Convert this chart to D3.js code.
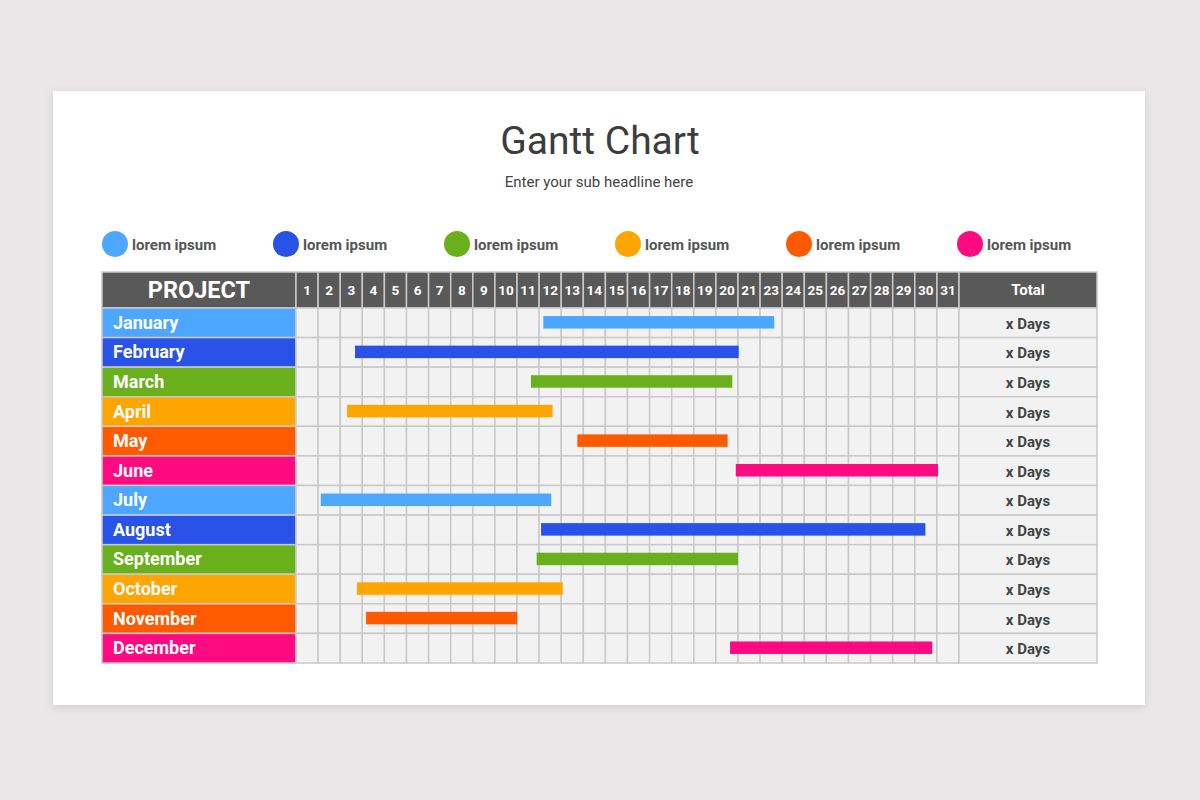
<!DOCTYPE html>
<html>
<head>
<meta charset="utf-8">
<script src="https://cdn.jsdelivr.net/npm/d3@7"></script>
<style>
  body { margin: 0; background: #e9e7e8; }
  svg { display: block; }
</style>
</head>
<body>
<svg id="chart"></svg>
<script>
var width = 1200;
var height = 800;

// data
var months = ["January", "February", "March", "April", "May", "June",
  "July", "August", "September", "October", "November", "December"];
var monthColors = ["#4da6ff", "#2852e8", "#6ab01c", "#ffa500", "#ff5a00", "#ff0a80",
  "#4da6ff", "#2852e8", "#6ab01c", "#ffa500", "#ff5a00", "#ff0a80"];
// day header labels (22 is missing in the original)
var dayLabels = ["1","2","3","4","5","6","7","8","9","10","11","12","13","14","15",
  "16","17","18","19","20","21","23","24","25","26","27","28","29","30","31"];
// bar start / end in day-column units
var barStart = [11.19, 2.67, 10.63, 2.31, 12.73, 19.90, 1.12, 11.09, 10.89, 2.76, 3.17, 19.64];
var barEnd   = [21.64, 20.03, 19.74, 11.61, 19.53, 29.05, 11.55, 28.48, 20.00, 12.07, 10.01, 28.79];
var totals = ["x Days","x Days","x Days","x Days","x Days","x Days",
  "x Days","x Days","x Days","x Days","x Days","x Days"];
var legendLabels = ["lorem ipsum","lorem ipsum","lorem ipsum","lorem ipsum","lorem ipsum","lorem ipsum"];
var legendColors = ["#4da6ff", "#2852e8", "#6ab01c", "#ffa500", "#ff5a00", "#ff0a80"];

var font = "Roboto, 'Noto Sans', sans-serif";
var headerColor = "#595959";
var gridColor = "#c9c9c9";
var cellColor = "#f2f2f2";

var svg = d3.select("#chart")
    .attr("width", width)
    .attr("height", height);

var defs = svg.append("defs");
var shadow = defs.append("filter").attr("id", "shadow")
    .attr("x", "-5%").attr("y", "-5%").attr("width", "110%").attr("height", "115%");
shadow.append("feDropShadow")
    .attr("dx", 0).attr("dy", 2).attr("stdDeviation", 4)
    .attr("flood-color", "#000").attr("flood-opacity", 0.12);

// card
svg.append("rect")
    .attr("x", 53).attr("y", 91)
    .attr("width", 1092).attr("height", 614)
    .attr("fill", "#fff")
    .attr("filter", "url(#shadow)");

// titles
svg.append("text")
    .attr("x", 600).attr("y", 154)
    .attr("text-anchor", "middle")
    .style("font-family", font)
    .style("font-size", "39px")
    .style("fill", "#3d3d3d")
    .text("Gantt Chart");

svg.append("text")
    .attr("x", 599).attr("y", 187)
    .attr("text-anchor", "middle")
    .style("font-family", font)
    .style("font-size", "15px")
    .style("fill", "#444")
    .text("Enter your sub headline here");

// legend
var legendX = d3.scalePoint()
    .domain(d3.range(legendLabels.length))
    .range([115, 970]);

var legend = svg.append("g").selectAll("g")
    .data(legendLabels)
    .join("g")
    .attr("transform", function(d, i){ return "translate(" + legendX(i) + ",244)"; });

legend.append("circle")
    .attr("r", 13)
    .attr("fill", function(d, i){ return legendColors[i]; });

legend.append("text")
    .attr("x", 17).attr("y", 6)
    .style("font-family", font)
    .style("font-size", "15px")
    .style("font-weight", "bold")
    .style("fill", "#555")
    .text(function(d){ return d; });

// scales
var projLeft = 102, projRight = 296;
var x = d3.scaleLinear()
    .domain([0, dayLabels.length])
    .range([296, 959]);
var totalLeft = 959, totalRight = 1097;
var headerTop = 272, headerBottom = 308;
var y = d3.scaleBand()
    .domain(months)
    .range([308, 663]);

var table = svg.append("g");

// header
table.append("rect")
    .attr("x", projLeft).attr("y", headerTop)
    .attr("width", projRight - projLeft).attr("height", headerBottom - headerTop)
    .attr("fill", headerColor)
    .attr("stroke", gridColor).attr("stroke-width", 1.5);

table.append("text")
    .attr("x", (projLeft + projRight) / 2).attr("y", headerTop + 26)
    .attr("text-anchor", "middle")
    .style("font-family", font)
    .style("font-size", "23.5px")
    .style("font-weight", "bold")
    .style("fill", "#fff")
    .text("PROJECT");

table.append("g").selectAll("rect")
    .data(dayLabels)
    .join("rect")
    .attr("x", function(d, i){ return x(i); })
    .attr("y", headerTop)
    .attr("width", x(1) - x(0))
    .attr("height", headerBottom - headerTop)
    .attr("fill", headerColor)
    .attr("stroke", gridColor).attr("stroke-width", 1.5);

table.append("g").selectAll("text")
    .data(dayLabels)
    .join("text")
    .attr("x", function(d, i){ return x(i + 0.5); })
    .attr("y", headerTop + 23)
    .attr("text-anchor", "middle")
    .style("font-family", font)
    .style("font-size", "13.5px")
    .style("font-weight", "bold")
    .style("fill", "#fff")
    .text(function(d){ return d; });

table.append("rect")
    .attr("x", totalLeft).attr("y", headerTop)
    .attr("width", totalRight - totalLeft).attr("height", headerBottom - headerTop)
    .attr("fill", headerColor)
    .attr("stroke", gridColor).attr("stroke-width", 1.5);

table.append("text")
    .attr("x", (totalLeft + totalRight) / 2).attr("y", headerTop + 23)
    .attr("text-anchor", "middle")
    .style("font-family", font)
    .style("font-size", "15px")
    .style("font-weight", "bold")
    .style("fill", "#fff")
    .text("Total");

// body cells
var rows = table.append("g").selectAll("g")
    .data(months)
    .join("g");

rows.append("rect")
    .attr("x", projLeft)
    .attr("y", function(d){ return y(d); })
    .attr("width", projRight - projLeft)
    .attr("height", y.bandwidth())
    .attr("fill", function(d, i){ return monthColors[i]; })
    .attr("stroke", gridColor).attr("stroke-width", 1.5);

rows.append("text")
    .attr("x", projLeft + 11)
    .attr("y", function(d){ return y(d) + y.bandwidth() / 2 + 6; })
    .style("font-family", font)
    .style("font-size", "18px")
    .style("font-weight", "bold")
    .style("fill", "#fff")
    .text(function(d){ return d; });

rows.each(function(m){
  d3.select(this).selectAll("rect.day")
      .data(dayLabels)
      .join("rect")
      .attr("class", "day")
      .attr("x", function(d, i){ return x(i); })
      .attr("y", y(m))
      .attr("width", x(1) - x(0))
      .attr("height", y.bandwidth())
      .attr("fill", cellColor)
      .attr("stroke", gridColor).attr("stroke-width", 1.5);
});

rows.append("rect")
    .attr("x", totalLeft)
    .attr("y", function(d){ return y(d); })
    .attr("width", totalRight - totalLeft)
    .attr("height", y.bandwidth())
    .attr("fill", cellColor)
    .attr("stroke", gridColor).attr("stroke-width", 1.5);

rows.append("text")
    .attr("x", (totalLeft + totalRight) / 2)
    .attr("y", function(d){ return y(d) + y.bandwidth() / 2 + 6; })
    .attr("text-anchor", "middle")
    .style("font-family", font)
    .style("font-size", "15px")
    .style("font-weight", "bold")
    .style("fill", "#444")
    .text(function(d, i){ return totals[i]; });

// bars
var barH = 12.5;
table.append("g").selectAll("rect")
    .data(months)
    .join("rect")
    .attr("x", function(d, i){ return x(barStart[i]); })
    .attr("y", function(d){ return y(d) + y.bandwidth() / 2 - barH / 2 - 0.5; })
    .attr("width", function(d, i){ return x(barEnd[i]) - x(barStart[i]); })
    .attr("height", barH)
    .attr("fill", function(d, i){ return monthColors[i]; });
</script>
</body>
</html>
